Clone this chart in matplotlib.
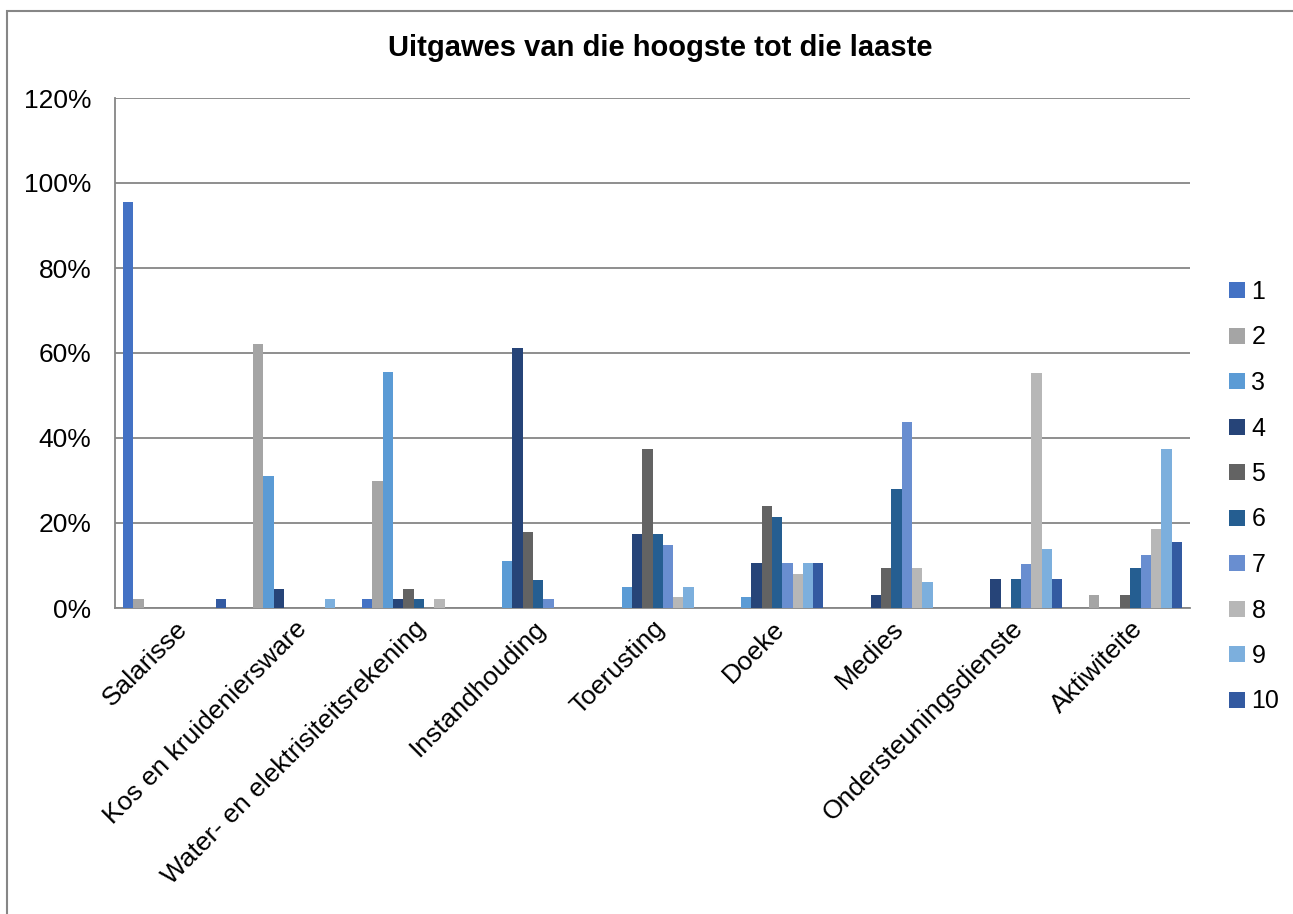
import matplotlib
matplotlib.use("Agg")
import matplotlib.pyplot as plt
from matplotlib.patches import Rectangle, Patch
import numpy as np

plt.rcParams['font.family'] = ['Liberation Sans', 'DejaVu Sans']

categories = ["Salarisse", "Kos en kruideniersware", "Water- en elektrisiteitsrekening",
              "Instandhouding", "Toerusting", "Doeke", "Medies",
              "Ondersteuningsdienste", "Aktiwiteite"]
series_names = ["1", "2", "3", "4", "5", "6", "7", "8", "9", "10"]

# values in %, one list per rank (series), across categories
s1 = [95.5, 0, 2.2, 0, 0, 0, 0, 0, 0]
s2 = [2.2, 62.2, 30.0, 0, 0, 0, 0, 0, 3.1]
s3 = [0, 31.1, 55.6, 11.1, 4.9, 2.6, 0, 0, 0]
s4 = [0, 4.4, 2.2, 61.2, 17.3, 10.5, 3.1, 6.8, 0]
s5 = [0, 0, 4.4, 18.0, 37.3, 24.1, 9.3, 0, 3.1]
s6 = [0, 0, 2.2, 6.7, 17.3, 21.5, 28.1, 6.8, 9.3]
s7 = [0, 0, 0, 2.2, 14.9, 10.5, 43.7, 10.3, 12.4]
s8 = [0, 0, 2.2, 0, 2.5, 7.9, 9.3, 55.2, 18.6]
s9 = [0, 2.2, 0, 0, 4.9, 10.5, 6.2, 13.8, 37.3]
s10 = [2.2, 0, 0, 0, 0, 10.5, 0, 6.8, 15.5]
series = [s1, s2, s3, s4, s5, s6, s7, s8, s9, s10]

colors = ["#4472C4", "#A5A5A5", "#5B9BD5", "#264478", "#636363",
          "#255E91", "#698ED0", "#B7B7B7", "#7CAFDD", "#335AA1"]

W, H = 1293, 914
fig = plt.figure(figsize=(W / 100, H / 100), dpi=100)

# outer chart border (right/bottom edges fall outside the image)
fig.patches.append(Rectangle((7 / W, -0.05), 1.1, 1 - 10.5 / H + 0.05,
                             transform=fig.transFigure, fill=False,
                             edgecolor="#868686", linewidth=1.5))

ax = fig.add_axes([115 / W, 1 - 608 / H, (1190 - 115) / W, (608 - 98) / H])

x = np.arange(len(categories))
bw = 0.0863
n = len(series)
for i, (vals, c) in enumerate(zip(series, colors)):
    offs = (i - (n - 1) / 2) * bw
    ax.bar(x + offs, vals, width=bw, color=c, label=series_names[i], zorder=3)

ax.set_xlim(-0.5, len(categories) - 0.5)
ax.set_ylim(0, 120)
ax.set_yticks(np.arange(0, 121, 20))
ax.set_yticklabels([f"{v}%" for v in range(0, 121, 20)], fontsize=19)
ax.yaxis.grid(True, color="#868686", linewidth=1.3, zorder=0)
ax.set_axisbelow(True)
for s in ["top", "right"]:
    ax.spines[s].set_visible(False)
for s in ["left", "bottom"]:
    ax.spines[s].set_color("#868686")
    ax.spines[s].set_linewidth(1.3)
ax.tick_params(axis="y", length=0, pad=17)
ax.tick_params(axis="x", length=0, pad=6)
ax.set_xticks(x)
ax.set_xticklabels(categories, rotation=45, ha="right", rotation_mode="anchor", fontsize=19)

fig.text(660 / W, 1 - 48 / H, "Uitgawes van die hoogste tot die laaste",
         ha="center", va="center", fontsize=21, fontweight="bold")

handles = [Patch(facecolor=c, edgecolor="none") for c in colors]
fig.legend(handles, series_names, loc="upper left",
           bbox_to_anchor=(1229 / W, 1 - 280 / H), frameon=False,
           fontsize=18, handlelength=0.62, handleheight=0.62,
           handletextpad=0.28, labelspacing=0.86, borderpad=0,
           borderaxespad=0)

fig.savefig("out.png", dpi=100)
